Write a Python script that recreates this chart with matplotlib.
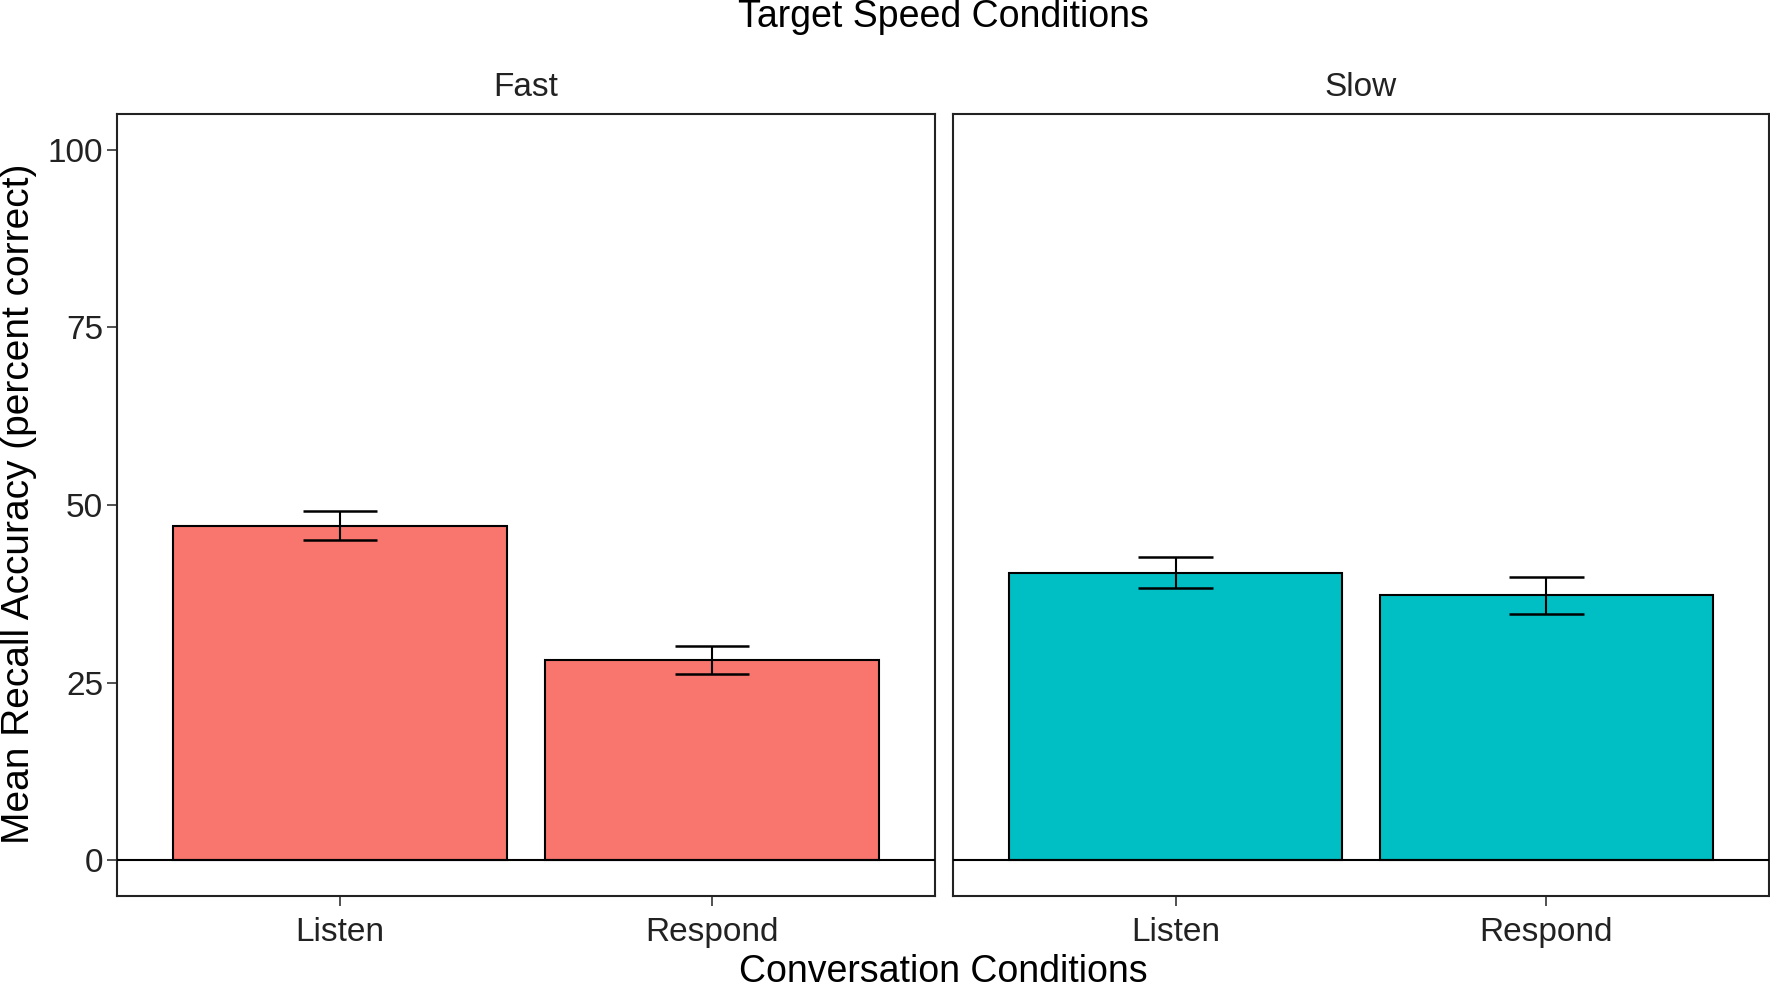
import numpy as np
import matplotlib.pyplot as plt

plt.rcParams['font.family'] = ['Liberation Sans', 'DejaVu Sans']

# data
speeds = ['Fast', 'Slow']
conditions = ['Listen', 'Respond']
means = {'Fast': [47.1, 28.2], 'Slow': [40.5, 37.3]}
errors = {'Fast': [2.0, 2.0], 'Slow': [2.2, 2.6]}
colors = {'Fast': '#F8766D', 'Slow': '#00BFC4'}
yticks = [0, 25, 50, 75, 100]

fig = plt.figure(figsize=(17.7, 9.85), dpi=100)
W, H = 1770, 985
panels = [(117, 935), (953, 1769)]
top, bottom = 114, 896

x = np.arange(1, len(conditions) + 1)
for i, sp in enumerate(speeds):
    l, r = panels[i]
    ax = fig.add_axes([l / W, 1 - bottom / H, (r - l) / W, (bottom - top) / H])
    ax.bar(x, means[sp], width=0.9, color=colors[sp], edgecolor='black', linewidth=1.5, zorder=2)
    lo = np.array(means[sp]) - np.array(errors[sp])
    hi = np.array(means[sp]) + np.array(errors[sp])
    ax.vlines(x, lo, hi, color='black', linewidth=1.5, zorder=3)
    ax.hlines(lo, x - 0.1, x + 0.1, color='black', linewidth=1.8, zorder=3)
    ax.hlines(hi, x - 0.1, x + 0.1, color='black', linewidth=1.8, zorder=3)
    ax.axhline(0, color='black', linewidth=1.5, zorder=4)
    ax.set_xlim(0.4, 2.6)
    ax.set_ylim(-5, 105)
    ax.set_xticks(x)
    ax.set_xticklabels(conditions, fontsize=24)
    ax.set_yticks(yticks)
    if i == 0:
        ax.set_yticklabels([str(v) for v in yticks], fontsize=24)
    else:
        ax.tick_params(axis='y', left=False, labelleft=False)
    ax.tick_params(length=7, width=1.2, color='#333333', labelcolor='#222222', pad=3)
    ax.tick_params(axis='x', pad=8)
    for s in ax.spines.values():
        s.set_linewidth(1.5)
        s.set_color('#222222')
    fig.text((l + r) / 2 / W, 1 - 87 / H, sp, ha='center', va='center', fontsize=24, color='#222222')

fig.text(943 / W, 1 - 27 / H, 'Target Speed Conditions', ha='center', va='baseline', fontsize=27)
fig.text(943 / W, 1 - 982 / H, 'Conversation Conditions', ha='center', va='baseline', fontsize=27)
fig.text(19 / W, 1 - 504 / H, 'Mean Recall Accuracy (percent correct)', ha='center', va='center',
         rotation=90, fontsize=28)

fig.savefig('out.png', dpi=100)
